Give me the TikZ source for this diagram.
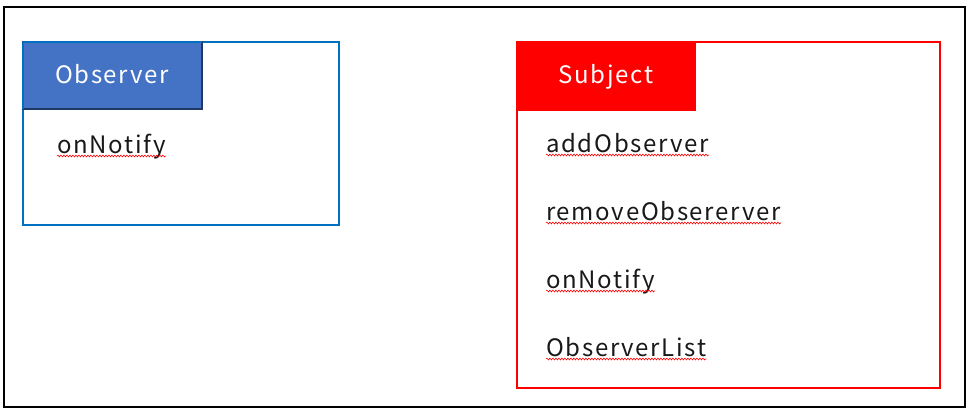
\documentclass[tikz,border=0pt]{standalone}
\usepackage{fontspec}
\setmainfont{Noto Sans CJK JP}[LetterSpace=7]
\usetikzlibrary{decorations.pathmorphing}
\definecolor{obsline}{HTML}{0070C0}
\definecolor{obsfill}{HTML}{4472C4}
\definecolor{obsdark}{HTML}{203864}
\definecolor{subjred}{HTML}{FF0000}
\tikzset{
  frame/.style={draw=black, line width=2pt},
  obsbox/.style={draw=obsline, line width=2pt},
  obshead/.style={fill=obsfill, draw=obsdark, line width=1.5pt},
  subjbox/.style={draw=subjred, line width=2pt},
  subjhead/.style={fill=subjred, draw=subjred, line width=1pt},
  headtext/.style={text=white, font=\fontsize{24}{28}\selectfont, inner sep=0pt},
  itemtext/.style={text=black!90, font=\fontsize{24}{28}\selectfont, anchor=base west, inner sep=0pt},
  squiggle/.style={draw=red, line width=0.6pt, decorate, decoration={snake, amplitude=0.9pt, segment length=3pt}}
}
\newcommand{\spellmark}[1]{\draw[squiggle] ([yshift=-3pt]#1.base west) -- ([yshift=-3pt]#1.base east);}
\begin{document}
\begin{tikzpicture}[x=1pt,y=-1pt]
\useasboundingbox (0,0) rectangle (970,415);
\draw[frame] (4,7) rectangle (965,407);
% Observer
\draw[obsbox] (22.5,42) rectangle (339,225);
\draw[obshead] (22.5,42) rectangle (202,109);
\draw[obsbox] (22.5,42) -- (202,42);
\draw[obsbox] (22.5,42) -- (22.5,109);
\node[headtext, anchor=base] (obstitle) at (112,83) {Observer};
\node[itemtext] (obsnotify) at (57,153) {onNotify};
\spellmark{obsnotify}
% Subject
\draw[subjbox] (516.5,42) rectangle (940,388);
\draw[subjhead] (516.5,42) rectangle (695,110);
\node[headtext, anchor=base] (subjtitle) at (606,83) {Subject};
\node[itemtext] (add) at (546,152) {addObserver};
\node[itemtext] (remove) at (546,220) {removeObsererver};
\node[itemtext] (subjnotify) at (546,288) {onNotify};
\node[itemtext] (list) at (546,356) {ObserverList};
\spellmark{add}
\spellmark{remove}
\spellmark{subjnotify}
\spellmark{list}
\end{tikzpicture}
\end{document}
